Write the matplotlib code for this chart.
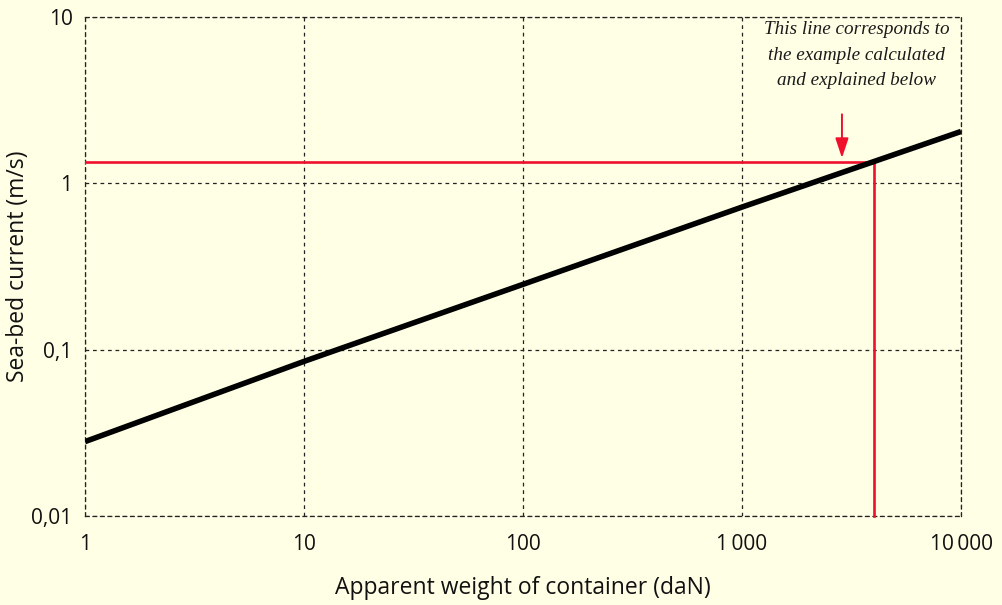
import matplotlib.pyplot as plt
from matplotlib.ticker import FixedLocator, NullLocator

# data
weights = [1, 10, 100, 1000, 10000]          # daN
currents = [0.028, 0.085, 0.247, 0.72, 2.05]  # m/s

example_weight = 4000
example_current = 1.35
arrow_weight = 2860
arrow_from = 2.6
arrow_to = 1.42

x_ticks = [1, 10, 100, 1000, 10000]
x_labels = ["1", "10", "100", "1\u2009000", "10\u2009000"]
y_ticks = [0.01, 0.1, 1, 10]
y_labels = ["0,01", "0,1", "1", "10"]

bg = "#ffffe6"
red = "#f0102e"

plt.rcParams['font.family'] = ['Open Sans', 'DejaVu Sans']

fig = plt.figure(figsize=(10.02, 6.05), dpi=100, facecolor=bg)
ax = fig.add_axes([0.0848, 0.1471, 0.8743, 0.8248], facecolor=bg)

ax.set_xscale('log')
ax.set_yscale('log')
ax.set_xlim(1, 10000)
ax.set_ylim(0.01, 10)

ax.grid(True, which='major', linestyle=(0, (3, 3)), color='#222222', linewidth=0.9)
for s in ax.spines.values():
    s.set_linestyle((0, (3, 3)))
    s.set_linewidth(0.9)
    s.set_color('#222222')

ax.xaxis.set_major_locator(FixedLocator(x_ticks))
ax.yaxis.set_major_locator(FixedLocator(y_ticks))
ax.xaxis.set_minor_locator(NullLocator())
ax.yaxis.set_minor_locator(NullLocator())
ax.set_xticklabels(x_labels)
ax.set_yticklabels(y_labels)
ax.tick_params(length=0, labelsize=15, colors='#111111', pad=9)
ax.tick_params(axis='x', pad=13)

# example lines
ax.plot([1, example_weight], [example_current, example_current], color=red, lw=1.9, zorder=3)
ax.plot([example_weight, example_weight], [example_current, 0.01], color=red, lw=1.9, zorder=3,
        clip_on=False)

ax.plot(weights, currents, color='black', lw=4, zorder=4, solid_capstyle='butt')

ax.annotate('', xy=(arrow_weight, arrow_to), xytext=(arrow_weight, arrow_from),
            arrowprops=dict(arrowstyle='-|>,head_length=0.6,head_width=0.2', color=red,
                            lw=1.4, mutation_scale=20, shrinkA=0, shrinkB=0))

ax.text(3350, 9.4, "This line corresponds to\nthe example calculated\nand explained below",
        ha='center', va='top', fontsize=13.8, style='italic', family='Liberation Serif',
        color='#1a1a1a', linespacing=1.62)

ax.set_xlabel("Apparent weight of container (daN)", fontsize=16.5, color='#111111')
ax.set_ylabel("Sea-bed current (m/s)", fontsize=16.5, color='#111111')
ax.xaxis.set_label_coords(0.5, -0.144)
ax.yaxis.set_label_coords(-0.0765, 0.5)
ax.xaxis.label.set_va('center')
ax.yaxis.label.set_va('center')

fig.savefig('out.png', dpi=100, facecolor=bg)
